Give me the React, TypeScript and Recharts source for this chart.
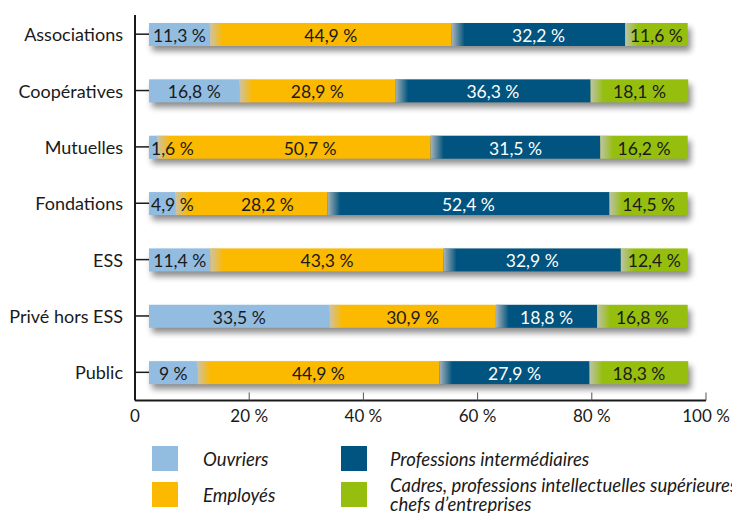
import React from 'react';
import { BarChart, Bar, XAxis, YAxis, LabelList } from 'recharts';

const categories = ['Associations', 'Coopératives', 'Mutuelles', 'Fondations', 'ESS', 'Privé hors ESS', 'Public'];
const ouvriers = [11.3, 16.8, 1.6, 4.9, 11.4, 33.5, 9];
const employes = [44.9, 28.9, 50.7, 28.2, 43.3, 30.9, 44.9];
const intermediaires = [32.2, 36.3, 31.5, 52.4, 32.9, 18.8, 27.9];
const cadres = [11.6, 18.1, 16.2, 14.5, 12.4, 16.8, 18.3];
const pctTicks = [0, 20, 40, 60, 80, 100];

const series = [
  { key: 'ouvriers', values: ouvriers, lines: ['Ouvriers'], color: '#92bce0', text: '#1a1a1a' },
  { key: 'employes', values: employes, lines: ['Employés'], color: '#fbb900', text: '#1a1a1a' },
  { key: 'intermediaires', values: intermediaires, lines: ['Professions intermédiaires'], color: '#00547f', text: '#ffffff' },
  { key: 'cadres', values: cadres, lines: ['Cadres, professions intellectuelles supérieures,', 'chefs d’entreprises'], color: '#96be0e', text: '#1a1a1a' },
];

const rows = categories.map((name, i) => {
  const row: Record<string, any> = { name };
  let total = 0;
  series.forEach((s) => {
    row[s.key] = s.values[i];
    total += s.values[i];
  });
  row.total = total;
  return row;
});

const FONT = 'Lato, "Open Sans", sans-serif';
// bars sit a little inside the percentage axis, so they get their own hidden scale
const BAR_DOMAIN = [-2.6, 103.4];
const Y_PADDING = { top: -9, bottom: 0 };

const fmt = (v: number) => `${String(v).replace('.', ',')} %`;

const CategoryTick = (props: any) => {
  const { x, y, payload } = props;
  return (
    <g>
      <line x1={x} y1={y} x2={x + 14} y2={y} stroke="#1a1a1a" strokeWidth={1.5} />
      <text x={x - 12} y={y} textAnchor="end" dominantBaseline="central" fontFamily={FONT} fontSize={18} fill="#1a1a1a">
        {payload.value}
      </text>
    </g>
  );
};

const PctTick = (props: any) => {
  const { x, y, payload } = props;
  return (
    <g>
      {payload.value > 0 && <line x1={x} y1={y} x2={x} y2={y - 8} stroke="#555" strokeWidth={1} />}
      <text x={x} y={y + 15} textAnchor="middle" dominantBaseline="central" fontFamily={FONT} fontSize={17} fill="#1a1a1a">
        {payload.value === 0 ? '0' : `${payload.value} %`}
      </text>
    </g>
  );
};

const segmentShape = (si: number) => (props: any) => {
  const { x, y, width, height } = props;
  if (!width || width <= 0) return <g />;
  return (
    <g>
      <rect x={x} y={y} width={width} height={height} fill={series[si].color} />
      {si > 0 && <rect x={x} y={y} width={Math.min(13, width)} height={height} fill="url(#edgeFade)" />}
    </g>
  );
};

const segmentLabel = (si: number) => (props: any) => {
  const { x, y, width, height, value, index } = props;
  let cx = x + width / 2;
  let anchor: 'middle' | 'start' = 'middle';
  if (width < 40) {
    cx = x + 2;
    anchor = 'start';
  } else if (si > 0) {
    const prevWidth = (rows[index][series[si - 1].key] * width) / value;
    if (prevWidth < 40) cx += 16;
  }
  return (
    <text x={cx} y={y + height / 2 + 1} textAnchor={anchor} dominantBaseline="central" fontFamily={FONT} fontSize={17.5} fill={series[si].text}>
      {fmt(value)}
    </text>
  );
};

const ShadowShape = (props: any) => {
  const { x, y, width, height } = props;
  return <rect x={x} y={y} width={width} height={height} fill="#000" opacity={0.45} filter="url(#barShadow)" />;
};

function LegendBlock() {
  return (
    <div style={{ position: 'absolute', left: 0, top: 446, width: 732, height: 67, fontFamily: FONT, fontStyle: 'italic', fontSize: 18.5, color: '#1a1a1a' }}>
      {series.map((s, i) => {
        const col = i < 2 ? 0 : 1;
        const row = i % 2;
        const left = col === 0 ? 152 : 341;
        const top = row * 36;
        const twoLines = s.lines.length > 1;
        return (
          <div key={s.key} style={{ position: 'absolute', left, top, whiteSpace: 'nowrap' }}>
            <div style={{ position: 'absolute', left: 0, top: 0, width: 26, height: 25, background: s.color }} />
            <div style={{ position: 'absolute', left: col === 0 ? 51 : 49, top: twoLines ? -6 : 2, lineHeight: twoLines ? '19px' : '22px' }}>
              {s.lines.map((l) => (
                <div key={l}>{l}</div>
              ))}
            </div>
          </div>
        );
      })}
    </div>
  );
}

export default function App() {
  return (
    <div style={{ position: 'absolute', left: 0, top: 0, width: 732, height: 513, overflow: 'hidden', background: '#fff' }}>
      <BarChart width={732} height={513} data={rows} layout="vertical" margin={{ top: 15, right: 26, left: 0, bottom: 82.5 }}>
        <defs>
          <filter id="barShadow" x="-5%" y="-60%" width="115%" height="260%">
            <feOffset dx={3} dy={5} />
            <feGaussianBlur stdDeviation={3} />
          </filter>
          <linearGradient id="edgeFade" x1="0" y1="0" x2="1" y2="0">
            <stop offset="0%" stopColor="#c4c4c4" stopOpacity={0.85} />
            <stop offset="100%" stopColor="#c4c4c4" stopOpacity={0} />
          </linearGradient>
        </defs>
        <XAxis
          xAxisId="pct"
          type="number"
          domain={[0, 100]}
          allowDataOverflow
          ticks={pctTicks}
          height={30}
          axisLine={{ stroke: '#1a1a1a', strokeWidth: 2 }}
          tickLine={false}
          tickSize={0}
          tickMargin={0}
          tick={<PctTick />}
          interval={0}
        />
        <XAxis xAxisId="bars" type="number" orientation="top" height={0} domain={BAR_DOMAIN} allowDataOverflow hide />
        <YAxis
          yAxisId="main"
          type="category"
          dataKey="name"
          width={135}
          padding={Y_PADDING}
          axisLine={{ stroke: '#1a1a1a', strokeWidth: 2 }}
          tickLine={false}
          tickSize={0}
          tickMargin={0}
          tick={<CategoryTick />}
          interval={0}
        />
        <YAxis yAxisId="shadow" type="category" dataKey="name" width={0} padding={Y_PADDING} hide />
        <Bar dataKey="total" xAxisId="bars" yAxisId="shadow" barSize={23} shape={<ShadowShape />} isAnimationActive={false} legendType="none" />
        {series.map((s, si) => (
          <Bar
            key={s.key}
            dataKey={s.key}
            stackId="share"
            xAxisId="bars"
            yAxisId="main"
            barSize={23}
            fill={s.color}
            shape={segmentShape(si)}
            isAnimationActive={false}
          >
            <LabelList dataKey={s.key} content={segmentLabel(si)} />
          </Bar>
        ))}
      </BarChart>
      <LegendBlock />
    </div>
  );
}
